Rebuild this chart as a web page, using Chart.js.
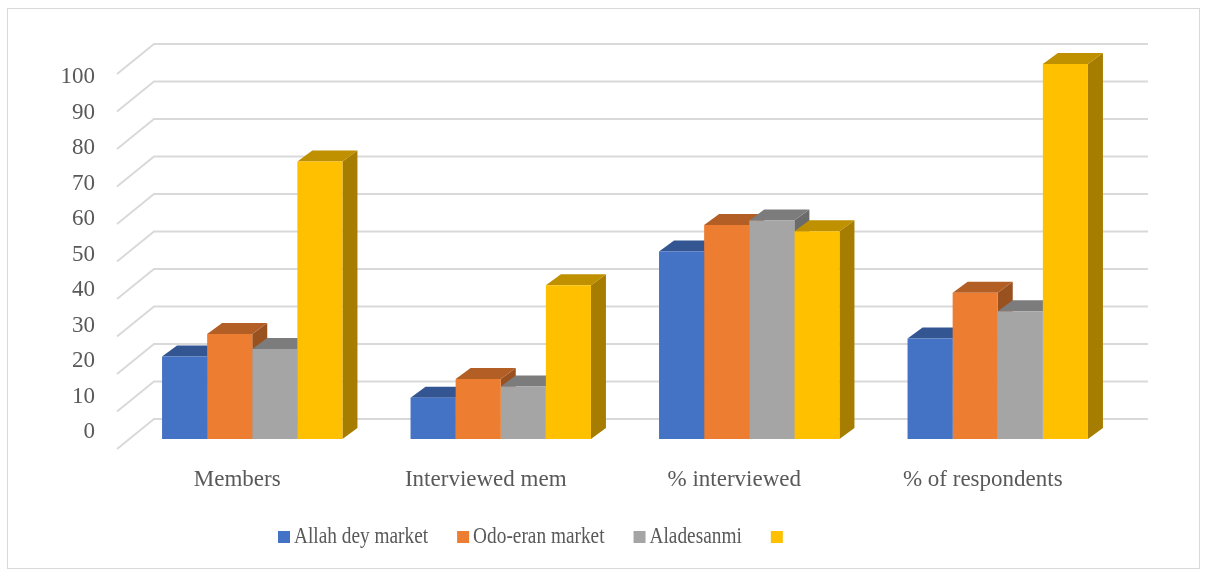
<!DOCTYPE html>
<html>
<head>
<meta charset="utf-8">
<title>Market members</title>
<script src="https://cdn.jsdelivr.net/npm/chart.js@4.4.1/dist/chart.umd.min.js"></script>
<style>
  html, body { margin: 0; padding: 0; background: #fff; }
  #wrap  { position: relative; width: 1208px; height: 571px; }
  #frame { position: absolute; left: 7px; top: 8px; width: 1191px; height: 559px;
           border: 1px solid #d9d9d9; pointer-events: none; }
</style>
</head>
<body>
<div id="wrap">
  <canvas id="chart" width="1208" height="571"></canvas>
  <div id="frame"></div>
</div>
<script>
// ---- Data ---------------------------------------------------
const categories  = ["Members", "Interviewed mem", "% interviewed", "% of respondents"];
const seriesNames = ["Allah dey market", "Odo-eran market", "Aladesanmi", ""];
const allahDey    = [22, 11, 50.0, 26.8];
const odoEran     = [28, 16, 57.1, 39.0];
const aladesanmi  = [24, 14, 58.3, 34.1];
const totals      = [74, 41, 55.4, 100];
const yTicks      = [0, 10, 20, 30, 40, 50, 60, 70, 80, 90, 100];

const colors = ["#4472C4", "#ED7D31", "#A5A5A5", "#FFC000"];

// ---- 3D look ------------------------------------------------
const DEPTH = { dx: 15, dy: -11 };   // bar front -> bar back
const WALL  = { dx: 26, dy: -20 };   // bar front plane -> back wall
const EDGE  = { dx: -11, dy: 10 };   // bar front plane -> front edge of side wall
const FONT  = "'Liberation Serif', 'Times New Roman', serif";
const TEXT  = "#595959";

function shade(hex, f) {
  const n = parseInt(hex.slice(1), 16);
  const r = Math.round(((n >> 16) & 255) * f);
  const g = Math.round(((n >> 8) & 255) * f);
  const b = Math.round((n & 255) * f);
  return `rgb(${r},${g},${b})`;
}

const threeD = {
  id: "threeD",
  beforeDatasetsDraw(chart) {
    const { ctx, chartArea: area, scales: { x, y } } = chart;

    // walls: left diagonal + back line for every tick
    ctx.save();
    ctx.strokeStyle = "#d9d9d9";
    ctx.lineWidth = 2;
    yTicks.forEach((v) => {
      const py = y.getPixelForValue(v);
      ctx.beginPath();
      ctx.moveTo(area.left + EDGE.dx, py + EDGE.dy);
      ctx.lineTo(area.left + WALL.dx, py + WALL.dy);
      ctx.lineTo(area.right + WALL.dx, py + WALL.dy);
      ctx.stroke();
    });

    // side and top faces, left to right so later bars cover earlier sides
    categories.forEach((_, j) => {
      chart.data.datasets.forEach((ds, i) => {
        const bar = chart.getDatasetMeta(i).data[j];
        const { x: cx, y: top, base, width } = bar.getProps(["x", "y", "base", "width"], true);
        const x0 = cx - width / 2, x1 = cx + width / 2;

        ctx.fillStyle = shade(colors[i], 0.65);
        ctx.beginPath();
        ctx.moveTo(x1, top);
        ctx.lineTo(x1 + DEPTH.dx, top + DEPTH.dy);
        ctx.lineTo(x1 + DEPTH.dx, base + DEPTH.dy);
        ctx.lineTo(x1, base);
        ctx.closePath();
        ctx.fill();

        ctx.fillStyle = shade(colors[i], 0.75);
        ctx.beginPath();
        ctx.moveTo(x0, top);
        ctx.lineTo(x1, top);
        ctx.lineTo(x1 + DEPTH.dx, top + DEPTH.dy);
        ctx.lineTo(x0 + DEPTH.dx, top + DEPTH.dy);
        ctx.closePath();
        ctx.fill();
      });
    });
    ctx.restore();
  },
  afterDraw(chart) {
    const { ctx, scales: { x, y } } = chart;
    ctx.save();
    ctx.fillStyle = TEXT;
    ctx.textBaseline = "middle";

    // value axis labels sit slightly tighter than the wall lines
    ctx.font = `23px ${FONT}`;
    ctx.textAlign = "right";
    yTicks.forEach((v) => {
      const py = y.getPixelForValue(v);
      ctx.fillText(String(v), 95, 16.4 + py * 0.9467);
    });

    // category labels along the front edge of the floor
    ctx.textAlign = "center";
    categories.forEach((c, j) => {
      ctx.fillText(c, x.getPixelForValue(j) - 15, 480);
    });

    // legend (text is squeezed horizontally)
    let lx = 278;
    const ly = 537;
    seriesNames.forEach((name, i) => {
      ctx.fillStyle = colors[i];
      ctx.fillRect(lx, ly - 6, 12, 12);
      ctx.fillStyle = TEXT;
      ctx.textAlign = "left";
      ctx.save();
      ctx.translate(lx + 16, ly);
      ctx.scale(0.84, 1);
      ctx.fillText(name, 0, 0);
      const w = ctx.measureText(name).width * 0.84;
      ctx.restore();
      lx += 16 + w + 29;
    });
    ctx.restore();
  },
};

const seriesValues = [allahDey, odoEran, aladesanmi, totals];

new Chart(document.getElementById("chart"), {
  type: "bar",
  data: {
    labels: categories,
    datasets: seriesValues.map((vals, i) => ({
      label: seriesNames[i],
      data: vals,
      backgroundColor: colors[i],
      borderWidth: 0,
      categoryPercentage: 0.726,
      barPercentage: 1,
    })),
  },
  options: {
    responsive: false,
    devicePixelRatio: 1,
    animation: false,
    layout: { padding: { left: 128, right: 86, top: 64, bottom: 132 } },
    plugins: { legend: { display: false }, tooltip: { enabled: false } },
    scales: {
      x: { display: false },
      y: { display: false, min: 0, max: 100 },
    },
  },
  plugins: [threeD],
});
</script>
</body>
</html>
